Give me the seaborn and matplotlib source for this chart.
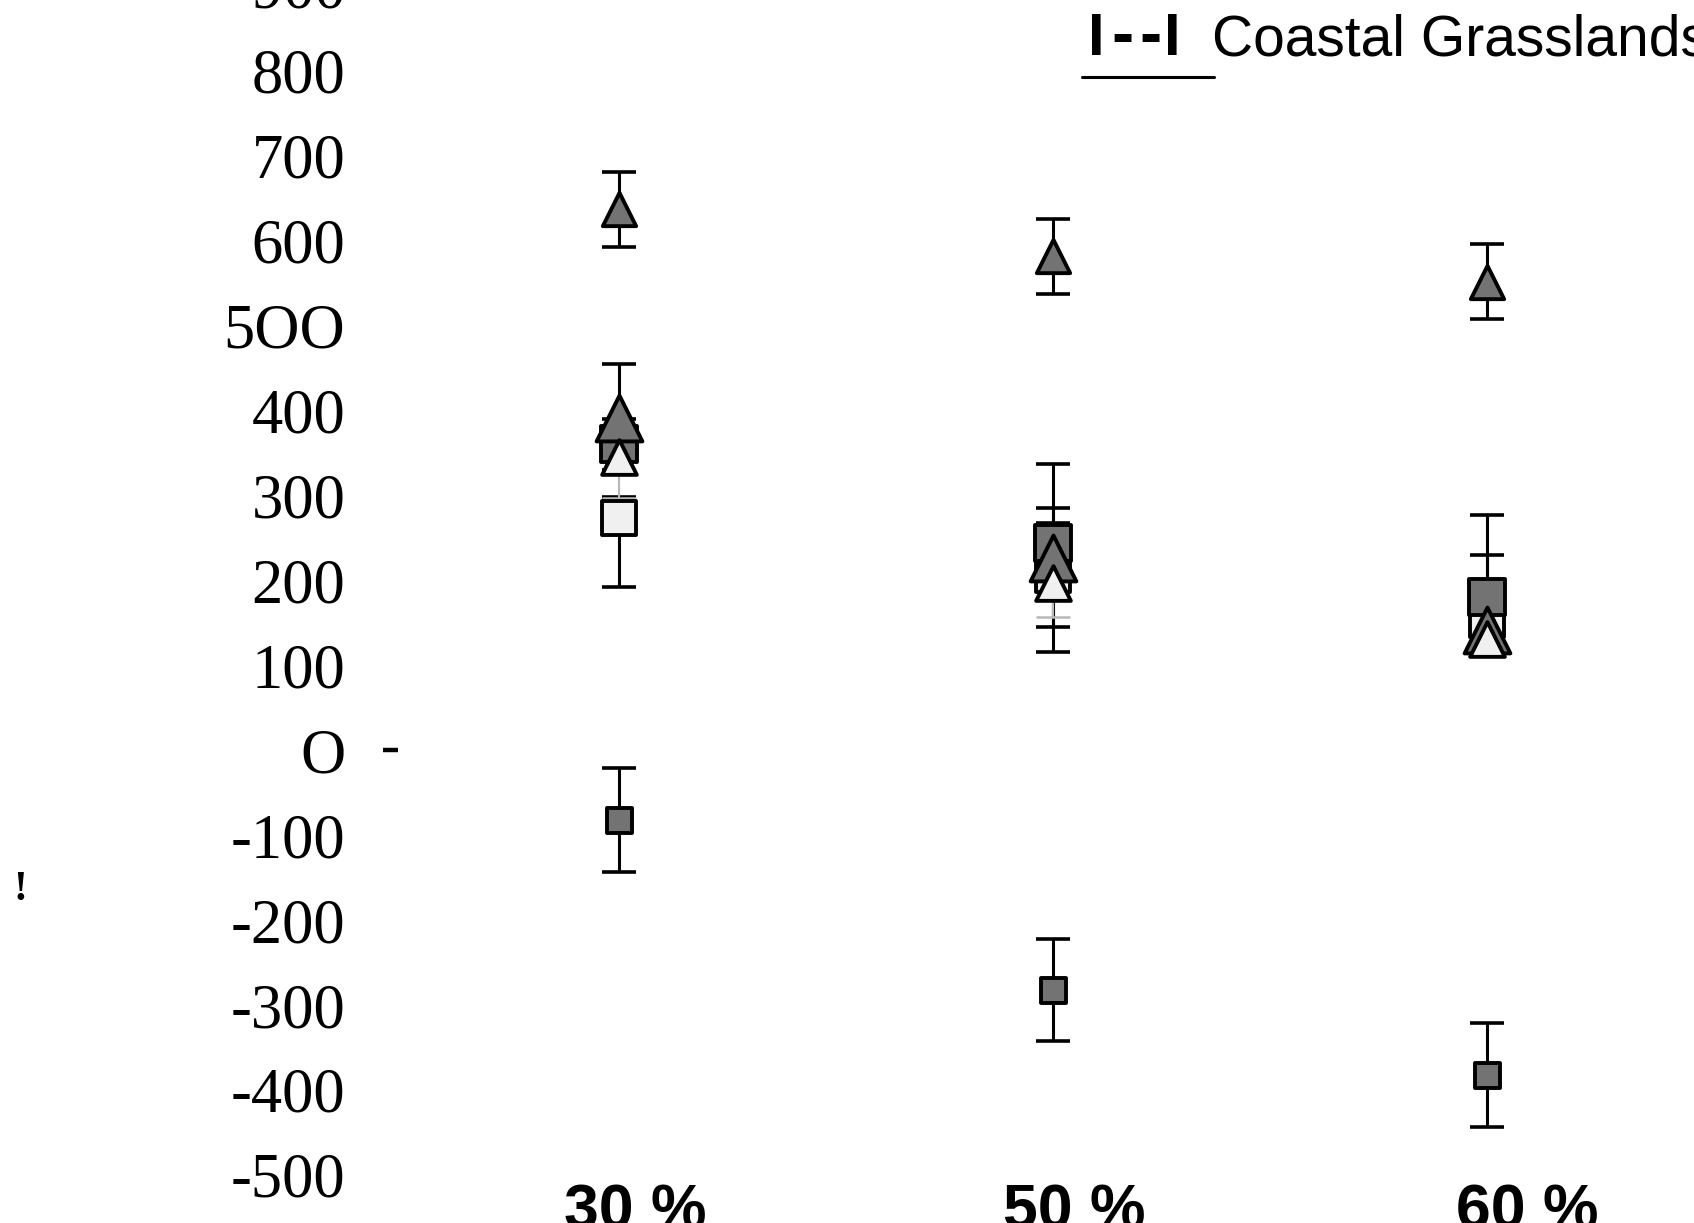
import matplotlib
matplotlib.use("Agg")
import matplotlib.pyplot as plt
from matplotlib.lines import Line2D
import numpy as np
import pandas as pd
import seaborn as sns

# ---- data ---------------------------------------------------------------
categories = ["30 %", "50 %", "60 %"]
x_pos = [0, 1, 2]
# label anchors sit slightly right of the marker columns
label_pos = [0.037, 1.048, 2.092]

upper_tri = [636, 581, 551]
upper_tri_err = [44, 44, 44]

dark_tri = [391, 226, 141]
dark_tri_lo = [30, 111, 25]
dark_tri_hi = [63, 110, 30]

dark_sq = [360, 243, 180]
dark_sq_lo = [30, 30, 30]
dark_sq_hi = [30, 42, 96]

white_tri = [345, 196, 131]
white_tri_lo = [48, 40, 18]
white_tri_hi = [20, 20, 20]

white_sq = [273, 206, 153]
white_sq_lo = [81, 61, 20]
white_sq_hi = [25, 61, 76]

neg_sq = [-82, -282, -382]
neg_sq_err = [61, 60, 61]

ytick_vals = list(range(-500, 1000, 100))
ytick_labels = ["-500", "-400", "-300", "-200", "-100", "O", "100", "200",
                "300", "400", "5OO", "600", "700", "800", "900"]

# ---- styling ------------------------------------------------------------
sns.set_theme(style="white")
plt.rcParams["font.family"] = ["Liberation Sans", "DejaVu Sans"]
plt.rcParams.update({
    "text.color": "black",
    "xtick.color": "black",
    "ytick.color": "black",
    "xtick.labelcolor": "black",
    "ytick.labelcolor": "black",
    "ytick.left": True,
})

DARK = "#737373"
LIGHT = "#f0f0f0"

fig = plt.figure(figsize=(16.94, 12.23), dpi=100)
ax = fig.add_axes([0.2350, 0.0323, 0.7650, 1.0008])
ax.set_xlim(-0.509, 2.477)
ax.set_ylim(-510, 930)

eb_kw = dict(fmt="none", ecolor="black", elinewidth=2.2, capsize=12, capthick=2.6, zorder=2)


def errbars(vals, lo, hi, **kw):
    opts = dict(eb_kw)
    opts.update(kw)
    ax.errorbar(x_pos, vals, yerr=[lo, hi], **opts)


errbars(upper_tri, upper_tri_err, upper_tri_err)
errbars(neg_sq, neg_sq_err, neg_sq_err)
errbars(white_sq, white_sq_lo, white_sq_hi)
errbars(dark_sq, dark_sq_lo, dark_sq_hi)
errbars(dark_tri, dark_tri_lo, dark_tri_hi)
errbars(white_tri, white_tri_lo, white_tri_hi, ecolor="#b8b8b8", elinewidth=1.6, capthick=1.8)


def markers(vals, marker, ms, fill, z):
    df = pd.DataFrame({"x": x_pos, "y": vals})
    sns.scatterplot(data=df, x="x", y="y", ax=ax, marker=marker, s=ms ** 2,
                    color=fill, edgecolor="black", linewidth=2.8, zorder=z,
                    legend=False)


markers(upper_tri, "^", 24, DARK, 3)
markers(neg_sq, "s", 18, DARK, 3)
markers(white_sq, "s", 24, LIGHT, 3)
markers(dark_sq, "s", 26, DARK, 4)
markers(dark_tri, "^", 33, DARK, 5)
markers(white_tri, "^", 25, LIGHT, 6)

# ---- axes ---------------------------------------------------------------
ax.set_xlabel("")
ax.set_ylabel("")
ax.set_yticks(ytick_vals)
ax.set_yticklabels(ytick_labels, family=["Liberation Serif", "DejaVu Serif"],
                   fontsize=45, color="black")
ax.tick_params(axis="y", which="major", length=0, pad=38, left=True)
# a single short tick mark at zero
ax.yaxis.remove_overlapping_locs = False
ax.set_yticks([0], minor=True)
ax.tick_params(axis="y", which="minor", length=11, width=3.2, color="black",
               left=True, direction="out")

ax.set_xticks(label_pos)
ax.set_xticklabels(categories, fontsize=45, fontweight="bold", color="black")
ax.tick_params(axis="x", length=0, pad=-1)

for sp in ax.spines.values():
    sp.set_visible(False)
ax.grid(False)

# ---- legend entry and stray mark ---------------------------------------
base = 1 - 55 / 1223
fig.text(1088 / 1694, base, "I", fontsize=43, fontweight="bold", ha="left", va="baseline")
fig.text(1122 / 1694, base, "-", fontsize=48, fontweight="bold", ha="center", va="baseline")
fig.text(1150 / 1694, base, "-", fontsize=48, fontweight="bold", ha="center", va="baseline")
fig.text(1181 / 1694, base, "I", fontsize=43, fontweight="bold", ha="right", va="baseline")
fig.text(1212 / 1694, base, "Coastal Grasslands", fontsize=41,
         ha="left", va="baseline")
fig.add_artist(Line2D([1082 / 1694, 1214 / 1694], [1 - 77 / 1223, 1 - 77 / 1223],
                      transform=fig.transFigure, color="black", lw=2.2))
fig.text(20 / 1694, 1 - 890 / 1223, "!", fontsize=30, fontweight="bold",
         family=["Liberation Serif", "DejaVu Serif"], ha="center", va="center")

fig.savefig("out.png", dpi=100)
